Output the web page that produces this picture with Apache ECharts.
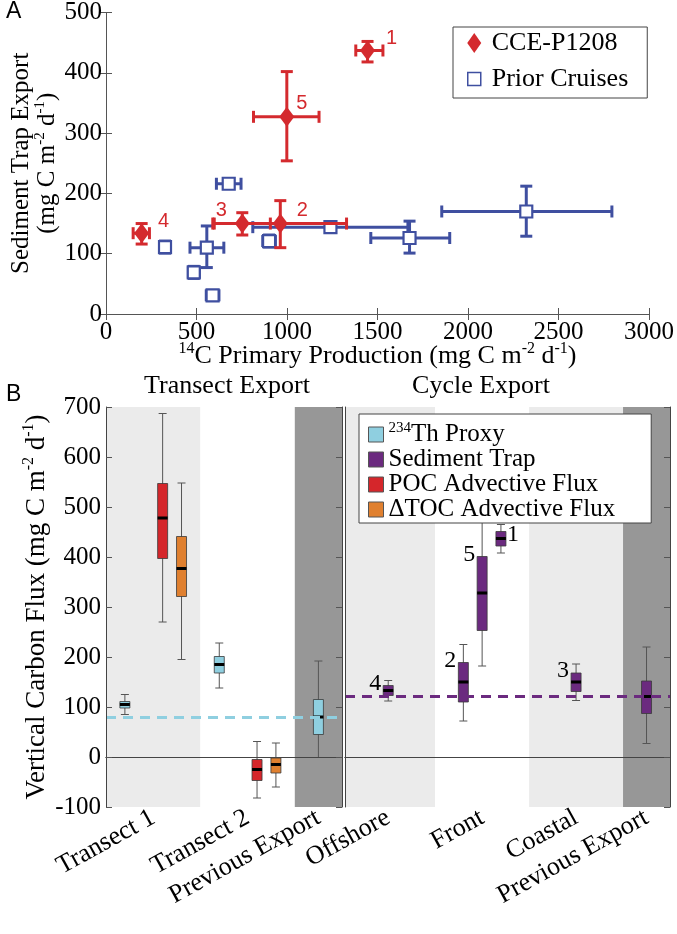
<!DOCTYPE html>
<html><head><meta charset="utf-8">
<script src="https://cdn.jsdelivr.net/npm/echarts@6/dist/echarts.min.js"></script>
<style>html,body{margin:0;padding:0;background:#fff}#c{width:677px;height:934px}</style>
</head><body><div id="c"></div>
<script>
// ---------- Panel A data ----------
const cceNames = ['1', '2', '3', '4', '5'];
const cceX   = [1445, 963, 753, 197, 999];
const cceY   = [437, 150, 150, 134, 327];
const cceXLo = [1380, 590, 598, 150, 815];
const cceXHi = [1530, 1329, 908, 240, 1177];
const cceYLo = [418, 110, 131, 116, 254];
const cceYHi = [452, 188, 168, 150, 402];

const priorX   = [326, 557, 485, 589, 678, 901, 1240, 1677, 2322];
const priorY   = [111, 110, 69, 31, 216, 121, 144, 126, 170];
const priorXLo = [316, 464, 455, 554, 610, 866, 811, 1463, 1855];
const priorXHi = [336, 651, 515, 624, 746, 936, 1668, 1899, 2795];
const priorYLo = [101, 77, 59, 26, 209, 111, 136, 101, 129];
const priorYHi = [121, 146, 79, 36, 223, 131, 152, 154, 212];

// ---------- Panel B data ----------
const transectCats = ['Transect 1', 'Transect 2', 'Previous Export'];
const cycleCats = ['Offshore', 'Front', 'Coastal', 'Previous Export'];

const thCats = ['Transect 1', 'Transect 2', 'Previous Export'];
const thStats = [[85, 98, 105, 111, 125], [138, 168, 185, 201, 228], [-1, 45, 80, 115, 192]];
const pocCats = ['Transect 1', 'Transect 2'];
const pocStats = [[270, 397, 478, 547, 687], [-82, -47, -25, -5, 31]];
const tocCats = ['Transect 1', 'Transect 2'];
const tocStats = [[195, 321, 377, 441, 548], [-60, -32, -15, -2, 28]];
const trapCats = ['Offshore', 'Front', 'Front', 'Front', 'Coastal', 'Previous Export'];
const trapCycles = ['4', '2', '5', '1', '3', ''];
const trapStats = [[112, 123, 133, 143, 153], [72, 110, 150, 189, 225], [182, 253, 328, 401, 471],
                   [408, 422, 437, 451, 465], [113, 131, 150, 168, 186], [27, 87, 121, 152, 220]];

const yTicksA = [0, 100, 200, 300, 400, 500];
const xTicksA = [0, 500, 1000, 1500, 2000, 2500, 3000];
const yTicksB = [-100, 0, 100, 200, 300, 400, 500, 600, 700];

// ---------- styles / layout ----------
const SERIF = 'Liberation Serif';
const SANS = 'Liberation Sans';
const COL = { th: '#8fcfe0', trap: '#6b2a7f', poc: '#d5262b', toc: '#e0802f' };
const CCE_COL = '#d42a2e', PRIOR_COL = '#3f4fa0';
const LIGHT = '#ebebeb', DARK = '#979797';

const transectPos = { 'Transect 1': 1, 'Transect 2': 2, 'Previous Export': 2.75 };
const cyclePos = { 'Offshore': 1, 'Front': 2, 'Coastal': 3, 'Previous Export': 3.75 };
const slot = { th: -0.3, trap: -0.1, poc: 0.1, toc: 0.3 };

function boxData(cats, stats, posMap, key) {
  const count = {}, seen = {};
  cats.forEach(c => count[c] = (count[c] || 0) + 1);
  return cats.map((c, i) => {
    let x = posMap[c];
    if (c === 'Previous Export') x += 0;
    else if (posMap === transectPos) x += slot[key];
    else { const k = seen[c] || 0; seen[c] = k + 1; x += (k - (count[c] - 1) / 2) * 0.2; }
    return [x].concat(stats[i]).concat([i]);
  });
}

function bands(cats, posMap) {
  return cats.map((c, i) => {
    const p = posMap[c];
    if (c === 'Previous Export') return [p - 0.25, p + 0.25, 2];
    return [p - 0.5, p + 0.5, i % 2];
  });
}

function bandRender(params, api) {
  const cs = params.coordSys;
  const a = api.coord([api.value(0), 0])[0];
  const b = api.coord([api.value(1), 0])[0];
  const x0 = Math.max(cs.x, a), x1 = Math.min(cs.x + cs.width, b);
  const fill = [LIGHT, '#ffffff', DARK][api.value(2)];
  return { type: 'rect', shape: { x: x0, y: cs.y, width: x1 - x0, height: cs.height }, style: { fill: fill } };
}

function boxRender(color, labels) {
  return function (params, api) {
    const x = api.value(0);
    const pMin = api.coord([x, api.value(1)]);
    const pQ1 = api.coord([x, api.value(2)]);
    const pMed = api.coord([x, api.value(3)]);
    const pQ3 = api.coord([x, api.value(4)]);
    const pMax = api.coord([x, api.value(5)]);
    const cx = pMed[0], hw = 5, cw = 4;
    const ws = { stroke: '#555', lineWidth: 1 };
    const ch = [
      { type: 'line', shape: { x1: cx, y1: pMax[1], x2: cx, y2: pMin[1] }, style: ws },
      { type: 'line', shape: { x1: cx - cw, y1: pMax[1], x2: cx + cw, y2: pMax[1] }, style: ws },
      { type: 'line', shape: { x1: cx - cw, y1: pMin[1], x2: cx + cw, y2: pMin[1] }, style: ws },
      { type: 'rect', shape: { x: cx - hw, y: pQ3[1], width: 2 * hw, height: pQ1[1] - pQ3[1] }, style: { fill: color, stroke: '#3a3a3a', lineWidth: 0.8 } },
      { type: 'line', shape: { x1: cx - hw, y1: pMed[1], x2: cx + hw, y2: pMed[1] }, style: { stroke: '#000', lineWidth: 3 } }
    ];
    if (labels) {
      const t = labels[api.value(6)];
      if (t) {
        const right = t === '1';
        ch.push({ type: 'text', x: right ? cx + 6 : cx - 7, y: right ? pQ3[1] + 3 : pQ3[1] - 2,
          style: { text: t, fontFamily: SERIF, fontSize: 24, fill: '#000', align: right ? 'left' : 'right', verticalAlign: 'middle' } });
      }
    }
    return { type: 'group', children: ch };
  };
}

function errRender(color) {
  return function (params, api) {
    const x = api.value(0), y = api.value(1);
    const xl = api.coord([api.value(2), y]), xh = api.coord([api.value(3), y]);
    const yl = api.coord([x, api.value(4)]), yh = api.coord([x, api.value(5)]);
    const s = { stroke: color, lineWidth: 3 }, c = 6;
    return { type: 'group', children: [
      { type: 'line', shape: { x1: xl[0], y1: xl[1], x2: xh[0], y2: xh[1] }, style: s },
      { type: 'line', shape: { x1: yl[0], y1: yl[1], x2: yh[0], y2: yh[1] }, style: s },
      { type: 'line', shape: { x1: xl[0], y1: xl[1] - c, x2: xl[0], y2: xl[1] + c }, style: s },
      { type: 'line', shape: { x1: xh[0], y1: xh[1] - c, x2: xh[0], y2: xh[1] + c }, style: s },
      { type: 'line', shape: { x1: yl[0] - c, y1: yl[1], x2: yl[0] + c, y2: yl[1] }, style: s },
      { type: 'line', shape: { x1: yh[0] - c, y1: yh[1], x2: yh[0] + c, y2: yh[1] }, style: s }
    ] };
  };
}

const cceLabelOffset = { '1': [24, -12], '2': [22, -13], '3': [-21, -13], '4': [22, -12], '5': [15, -13] };

const axisLineStyle = { color: '#555', width: 1 };
const tickIn = (show) => ({ show: show, inside: true, length: 6, lineStyle: { color: '#555' } });
const labelSerif = (size) => ({ fontFamily: SERIF, fontSize: size, color: '#000' });

function unitRich(size) {
  return { n: { fontFamily: SERIF, fontSize: size, color: '#000' },
           sup: { fontSize: Math.round(size * 0.6), fontFamily: SERIF, color: '#000', padding: [0, 0, Math.round(size * 0.55), 0] } };
}

const leftLabelMap = {}; transectCats.forEach(c => leftLabelMap[transectPos[c]] = c);
const rightLabelMap = {}; cycleCats.forEach(c => rightLabelMap[cyclePos[c]] = c);

const chart = echarts.init(document.getElementById('c'), null, { renderer: 'canvas' });

const option = {
  animation: false,
  backgroundColor: '#fff',
  grid: [
    { left: 103, top: 10, width: 564, height: 304 },
    { left: 106, top: 407, width: 236, height: 400 },
    { left: 345, top: 407, width: 325, height: 400 }
  ],
  xAxis: [
    { gridIndex: 0, type: 'value', min: 0, max: 3000, interval: 500, z: 10,
      axisLine: { lineStyle: axisLineStyle }, axisTick: tickIn(true), splitLine: { show: false },
      axisLabel: Object.assign(labelSerif(25), { margin: 6, formatter: v => xTicksA.includes(v) ? String(v) : '' }),
      name: '{sup|14}{n|C Primary Production (mg C m}{sup|-2}{n| d}{sup|-1}{n|)}',
      nameLocation: 'middle', nameGap: 27, nameMoveOverlap: false,
      nameTextStyle: { rich: unitRich(26), verticalAlign: 'top' } },
    { gridIndex: 0, type: 'value', position: 'top', min: 0, max: 3000, interval: 500, z: 10,
      axisLine: { lineStyle: axisLineStyle }, axisTick: tickIn(true), axisLabel: { show: false }, splitLine: { show: false } },
    { gridIndex: 1, type: 'value', min: 0.5, max: 3.0, z: 10,
      axisLine: { lineStyle: { color: '#444' } }, axisTick: { show: false }, splitLine: { show: false },
      axisLabel: Object.assign(labelSerif(26), { rotate: 29, margin: 9,
        customValues: transectCats.map(c => transectPos[c]), formatter: v => leftLabelMap[v] || '' }) },
    { gridIndex: 1, type: 'value', position: 'top', min: 0.5, max: 3.0, z: 10,
      axisLine: { lineStyle: { color: '#444' } }, axisTick: { show: false }, axisLabel: { show: false }, splitLine: { show: false } },
    { gridIndex: 2, type: 'value', min: 0.54, max: 4.0, z: 10,
      axisLine: { lineStyle: { color: '#444' } }, axisTick: { show: false }, splitLine: { show: false },
      axisLabel: Object.assign(labelSerif(26), { rotate: 29, margin: 9,
        customValues: cycleCats.map(c => cyclePos[c]), formatter: v => rightLabelMap[v] || '' }) },
    { gridIndex: 2, type: 'value', position: 'top', min: 0.54, max: 4.0, z: 10,
      axisLine: { lineStyle: { color: '#444' } }, axisTick: { show: false }, axisLabel: { show: false }, splitLine: { show: false } }
  ],
  yAxis: [
    { gridIndex: 0, type: 'value', min: 0, max: 500, interval: 100, z: 10,
      axisLine: { lineStyle: axisLineStyle }, axisTick: tickIn(true), splitLine: { show: false },
      axisLabel: Object.assign(labelSerif(25), { margin: 4, formatter: v => yTicksA.includes(v) ? String(v) : '' }),
      name: '{n|Sediment Trap Export}\n{n|(mg C m}{sup|-2}{n| d}{sup|-1}{n|)}',
      nameLocation: 'middle', nameGap: 46, nameRotate: 90, nameMoveOverlap: false,
      nameTextStyle: { rich: unitRich(25), lineHeight: 26 } },
    { gridIndex: 0, type: 'value', position: 'right', min: 0, max: 500, interval: 100, z: 10,
      axisLine: { lineStyle: axisLineStyle }, axisTick: tickIn(true), axisLabel: { show: false }, splitLine: { show: false } },
    { gridIndex: 1, type: 'value', min: -100, max: 700, interval: 100, z: 10,
      axisLine: { lineStyle: { color: '#444' } }, axisTick: tickIn(true), splitLine: { show: false },
      axisLabel: Object.assign(labelSerif(25), { margin: 5, formatter: v => yTicksB.includes(v) ? String(v) : '' }),
      name: '{n|Vertical Carbon Flux (mg C m}{sup|-2}{n| d}{sup|-1}{n|)}',
      nameLocation: 'middle', nameGap: 54, nameRotate: 90, nameMoveOverlap: false,
      nameTextStyle: { rich: unitRich(27) } },
    { gridIndex: 1, type: 'value', position: 'right', min: -100, max: 700, interval: 100, z: 10,
      axisLine: { lineStyle: { color: '#444' } }, axisTick: tickIn(true), axisLabel: { show: false }, splitLine: { show: false } },
    { gridIndex: 2, type: 'value', min: -100, max: 700, interval: 100, z: 10,
      axisLine: { lineStyle: { color: '#444' } }, axisTick: { show: false }, axisLabel: { show: false }, splitLine: { show: false } },
    { gridIndex: 2, type: 'value', position: 'right', min: -100, max: 700, interval: 100, z: 10,
      axisLine: { lineStyle: { color: '#444' } }, axisTick: tickIn(true), axisLabel: { show: false }, splitLine: { show: false } }
  ],
  legend: [
    { left: 453, top: 27, orient: 'vertical', padding: [3, 19, 6, 13.5], itemGap: 10,
      itemWidth: 25, itemHeight: 20, symbolKeepAspect: true,
      backgroundColor: '#fff', borderColor: '#444', borderWidth: 1, borderRadius: 0,
      textStyle: { fontFamily: SERIF, fontSize: 26, color: '#000' },
      data: [
        { name: 'CCE-P1208', icon: 'path://M7,0L14,10L7,20L0,10Z', itemStyle: { color: CCE_COL, borderWidth: 0 } },
        { name: 'Prior Cruises', icon: 'path://M0,0M14,20M0.5,3.5h13v13h-13z', itemStyle: { color: '#fff', borderColor: PRIOR_COL, borderWidth: 1.5 } }
      ] },
    { left: 359, top: 414, orient: 'vertical', padding: [7, 36, 1, 9], itemGap: 0,
      itemWidth: 15, itemHeight: 15,
      backgroundColor: '#fff', borderColor: '#444', borderWidth: 1, borderRadius: 0,
      textStyle: { fontFamily: SERIF, fontSize: 25, color: '#000', lineHeight: 24,
        rich: { n: { fontFamily: SERIF, fontSize: 25, color: '#000', lineHeight: 24 }, sup: { fontFamily: SERIF, fontSize: 15, color: '#000', padding: [0, 0, 12, 0] } } },
      formatter: name => name === 'Th Proxy' ? '{sup|234}{n|Th Proxy}' : '{n|' + name + '}',
      data: [
        { name: 'Th Proxy', icon: 'rect', itemStyle: { color: COL.th, borderColor: '#555', borderWidth: 1 } },
        { name: 'Sediment Trap', icon: 'rect', itemStyle: { color: COL.trap, borderColor: '#555', borderWidth: 1 } },
        { name: 'POC Advective Flux', icon: 'rect', itemStyle: { color: COL.poc, borderColor: '#555', borderWidth: 1 } },
        { name: 'ΔTOC Advective Flux', icon: 'rect', itemStyle: { color: COL.toc, borderColor: '#555', borderWidth: 1 } }
      ] }
  ],
  graphic: [
    { type: 'text', left: 6, top: 0, style: { text: 'A', fontFamily: SANS, fontSize: 23, fill: '#000' } },
    { type: 'text', left: 6, top: 383, style: { text: 'B', fontFamily: SANS, fontSize: 23, fill: '#000' } },
    { type: 'text', x: 227, y: 386, style: { text: 'Transect Export', fontFamily: SERIF, fontSize: 26, fill: '#000', align: 'center', verticalAlign: 'middle' } },
    { type: 'text', x: 481, y: 386, style: { text: 'Cycle Export', fontFamily: SERIF, fontSize: 26, fill: '#000', align: 'center', verticalAlign: 'middle' } }
  ],
  series: [
    // backgrounds
    { type: 'custom', name: 'bgL', xAxisIndex: 2, yAxisIndex: 2, z: 1, silent: true,
      renderItem: bandRender, data: bands(transectCats, transectPos), encode: { x: [0, 1] } },
    { type: 'custom', name: 'bgR', xAxisIndex: 4, yAxisIndex: 4, z: 1, silent: true,
      renderItem: bandRender, data: bands(cycleCats, cyclePos), encode: { x: [0, 1] } },
    // panel A
    { type: 'custom', name: 'Prior Cruises', xAxisIndex: 0, yAxisIndex: 0, z: 3,
      renderItem: errRender(PRIOR_COL), encode: { x: [0, 2, 3], y: [1, 4, 5] },
      data: priorX.map((x, i) => [x, priorY[i], priorXLo[i], priorXHi[i], priorYLo[i], priorYHi[i]]) },
    { type: 'scatter', name: 'Prior Cruises', xAxisIndex: 0, yAxisIndex: 0, z: 4,
      symbol: 'rect', symbolSize: 12,
      itemStyle: { color: '#fff', borderColor: PRIOR_COL, borderWidth: 2.2, opacity: 1 },
      data: priorX.map((x, i) => [x, priorY[i]]) },
    { type: 'custom', name: 'CCE-P1208', xAxisIndex: 0, yAxisIndex: 0, z: 5,
      renderItem: errRender(CCE_COL), encode: { x: [0, 2, 3], y: [1, 4, 5] },
      data: cceX.map((x, i) => [x, cceY[i], cceXLo[i], cceXHi[i], cceYLo[i], cceYHi[i]]) },
    { type: 'scatter', name: 'CCE-P1208', xAxisIndex: 0, yAxisIndex: 0, z: 6,
      symbol: 'diamond', symbolSize: [15, 20],
      itemStyle: { color: CCE_COL, opacity: 1 },
      label: { show: true, position: 'inside', fontFamily: SANS, fontSize: 20, color: CCE_COL,
        formatter: p => cceNames[p.dataIndex] },
      data: cceX.map((x, i) => ({ value: [x, cceY[i]], label: { offset: cceLabelOffset[cceNames[i]] } })) },
    // panel B
    { type: 'custom', name: 'Th Proxy', xAxisIndex: 2, yAxisIndex: 2, z: 3,
      itemStyle: { color: COL.th },
      renderItem: boxRender(COL.th, null), encode: { x: 0, y: [1, 2, 3, 4, 5] },
      data: boxData(thCats, thStats, transectPos, 'th'),
      markLine: { silent: true, symbol: 'none', label: { show: false }, animation: false,
        data: [
          { yAxis: 0, lineStyle: { color: '#000', width: 1, type: 'solid' } },
          { yAxis: thStats[thCats.indexOf('Previous Export')][2], lineStyle: { color: COL.th, width: 3, type: [10, 7] } }
        ] } },
    { type: 'custom', name: 'Sediment Trap', xAxisIndex: 4, yAxisIndex: 4, z: 3,
      itemStyle: { color: COL.trap },
      renderItem: boxRender(COL.trap, trapCycles), encode: { x: 0, y: [1, 2, 3, 4, 5] },
      data: boxData(trapCats, trapStats, cyclePos, 'trap'),
      markLine: { silent: true, symbol: 'none', label: { show: false }, animation: false,
        data: [
          { yAxis: 0, lineStyle: { color: '#000', width: 1, type: 'solid' } },
          { yAxis: trapStats[trapCats.indexOf('Previous Export')][2], lineStyle: { color: COL.trap, width: 3, type: [10, 7] } }
        ] } },
    { type: 'custom', name: 'POC Advective Flux', xAxisIndex: 2, yAxisIndex: 2, z: 3,
      itemStyle: { color: COL.poc },
      renderItem: boxRender(COL.poc, null), encode: { x: 0, y: [1, 2, 3, 4, 5] },
      data: boxData(pocCats, pocStats, transectPos, 'poc') },
    { type: 'custom', name: 'ΔTOC Advective Flux', xAxisIndex: 2, yAxisIndex: 2, z: 3,
      itemStyle: { color: COL.toc },
      renderItem: boxRender(COL.toc, null), encode: { x: 0, y: [1, 2, 3, 4, 5] },
      data: boxData(tocCats, tocStats, transectPos, 'toc') }
  ]
};
chart.setOption(option);
</script></body></html>
